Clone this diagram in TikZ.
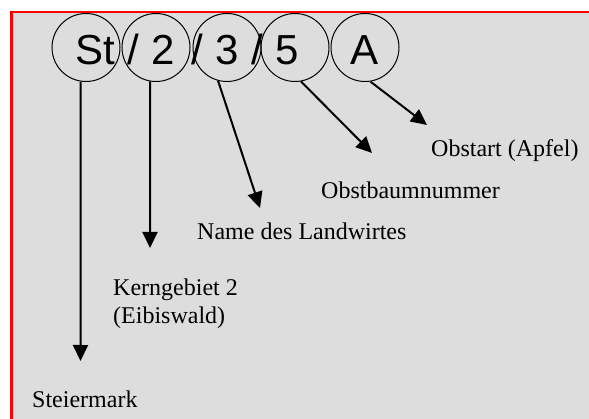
\documentclass[tikz,border=0pt]{standalone}
\usepackage{fontspec}
\setmainfont{Liberation Serif}
\newfontfamily\codefont{Liberation Sans}
\usetikzlibrary{arrows.meta}
\definecolor{panelgray}{RGB}{221,221,221}
\definecolor{framered}{RGB}{255,0,0}
\tikzset{
  ring/.style={circle, draw=black, line width=1pt, minimum size=68pt, inner sep=0pt},
  codepart/.style={anchor=base west, inner sep=0pt, font=\codefont\fontsize{42}{50}\selectfont},
  caption/.style={anchor=base west, inner sep=0pt, align=left, font=\fontsize{24}{28}\selectfont},
  pointer/.style={line width=2pt, -{Triangle[length=16pt,width=15pt]}}
}
\begin{document}
\begin{tikzpicture}[x=1pt, y=-1pt]
  \clip (0,0) rectangle (589,419);
  % panel with red frame on top and left
  \fill[white] (0,0) rectangle (589,419);
  \fill[panelgray] (11.3,12) rectangle (600,430);
  \draw[framered, line width=2.5pt] (11.3,430) -- (11.3,12) -- (600,12);

  % circles around the code parts
  \node[ring] (c1) at (86,47.5) {};
  \node[ring] (c2) at (156,47.5) {};
  \node[ring] (c3) at (227,47.5) {};
  \node[ring] (c4) at (295,47.5) {};
  \node[ring] (c5) at (365,47.5) {};

  % code text
  \node[codepart] (s1) at (75.5,65) {St};
  \node[codepart] (s2) at (127.5,65) {/ 2};
  \node[codepart] (s3) at (191.5,65) {/ 3};
  \node[codepart] (s4) at (251.5,65) {/ 5};
  \node[codepart, anchor=base] (s5) at (365,65) {A};

  % arrow end points
  \coordinate (t1) at (80.5,361);
  \coordinate (t2) at (150,248);
  \coordinate (t3) at (260,208);
  \coordinate (t4) at (372,153);
  \coordinate (t5) at (427,125);

  \draw[pointer] (c1.261) -- (t1);
  \draw[pointer] (c2.260) -- (t2);
  \draw[pointer] (c3.255) -- (t3);
  \draw[pointer] (c4.280) -- (t4);
  \draw[pointer] (c5.279) -- (t5);

  % captions
  \node[caption] (l5) at (431,157) {Obstart (Apfel)};
  \node[caption] (l4) at (321,199) {Obstbaumnummer};
  \node[caption] (l3) at (197,240) {Name des Landwirtes};
  \node[caption] (l2) at (113,296) {Kerngebiet 2};
  \node[caption] (l2b) at (113,324) {(Eibiswald)};
  \node[caption] (l1) at (32,407) {Steiermark};
\end{tikzpicture}
\end{document}
